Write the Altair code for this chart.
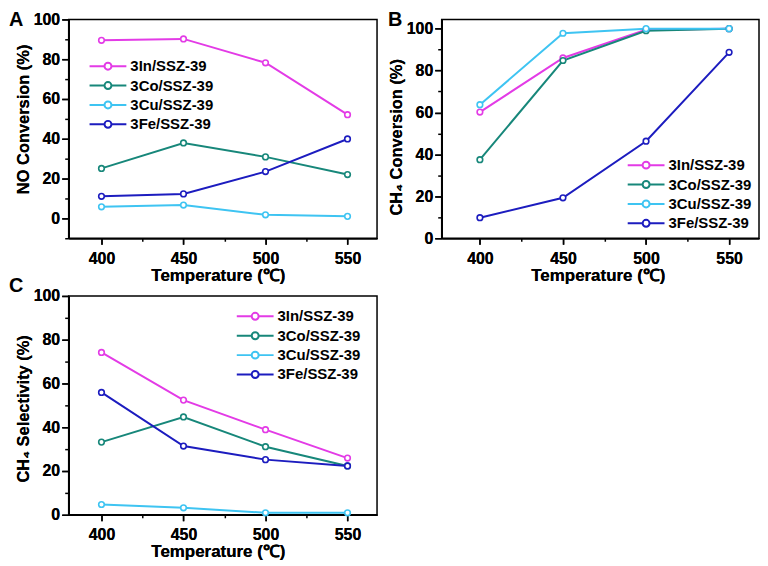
import altair as alt
import pandas as pd

temps = [400, 450, 500, 550]
series = ["3In/SSZ-39", "3Co/SSZ-39", "3Cu/SSZ-39", "3Fe/SSZ-39"]
colors = ["#e33be6", "#17877a", "#3ec4f2", "#1c1cbf"]

# Panel A: NO conversion (%)
no_in = [89.5, 90.2, 78.2, 52.1]
no_co = [25.1, 37.9, 30.9, 22.0]
no_cu = [5.8, 6.7, 1.8, 1.0]
no_fe = [11.1, 12.3, 23.5, 39.9]

# Panel B: CH4 conversion (%)
ch4c_in = [60.2, 86.0, 99.5, 100.0]
ch4c_co = [37.5, 84.8, 99.0, 100.0]
ch4c_cu = [63.7, 97.8, 100.0, 100.0]
ch4c_fe = [9.8, 19.3, 46.3, 88.7]

# Panel C: CH4 selectivity (%)
ch4s_in = [74.2, 52.4, 38.9, 25.9]
ch4s_co = [33.2, 44.7, 31.1, 22.3]
ch4s_cu = [4.7, 3.2, 0.9, 0.9]
ch4s_fe = [55.9, 31.4, 25.2, 22.3]

major_x = [400, 450, 500, 550]
minor_x = [425, 475, 525]
major_y = [0, 20, 40, 60, 80, 100]

FONT = "Liberation Sans"
XTITLE = "Temperature (\u2103)"
SYM = "M-3.7,0H-0.7M0.7,0H3.7M-0.7,0A0.7,0.7 0 1,0 0.7,0A0.7,0.7 0 1,0 -0.7,0Z"


def make_df(vals):
    rows = []
    for s, v in zip(series, vals):
        for t, y in zip(temps, v):
            rows.append({"temp": t, "val": y, "series": s})
    return pd.DataFrame(rows)


def panel(vals, ydom, ytitle, yminor, letter, ldx, ldy, legx, legy, w, xdom,
          tx, ty):
    df = make_df(vals)
    base = alt.Chart(df)
    xs = alt.Scale(domain=xdom, nice=False, zero=False)
    ys = alt.Scale(domain=ydom, nice=False, zero=False)
    xax = alt.Axis(values=major_x, title=XTITLE, format="d", tickSize=6,
                   labelPadding=6, titlePadding=1, orient="bottom", titleX=tx)
    yax = alt.Axis(values=major_y, title=ytitle, format="d", tickSize=7,
                   labelPadding=2, titlePadding=2, orient="left", titleY=ty,
                   titleFontSize=16.5)
    col = alt.Color("series:N", scale=alt.Scale(domain=series, range=colors),
                    legend=alt.Legend(orient="none", legendX=legx, legendY=legy,
                                      title=None, symbolType=SYM, symbolSize=100,
                                      symbolStrokeWidth=2, symbolFillColor="white",
                                      labelFont=FONT, labelFontSize=15,
                                      labelFontWeight="bold", labelColor="black",
                                      labelOffset=15, rowPadding=3.5, padding=0))
    line = base.mark_line(strokeWidth=2).encode(
        x=alt.X("temp:Q", scale=xs, axis=xax),
        y=alt.Y("val:Q", scale=ys, axis=yax),
        color=col,
    )
    pts = base.mark_point(shape="circle", size=32, filled=False, fill="white",
                          strokeWidth=1.6, opacity=1).encode(
        x=alt.X("temp:Q", scale=xs, axis=xax),
        y=alt.Y("val:Q", scale=ys, axis=yax),
        color=alt.Color("series:N", legend=None),
    )
    minor = base.mark_point(opacity=0).encode(
        x=alt.X("temp:Q", scale=xs,
                axis=alt.Axis(values=minor_x, labels=False, domain=False,
                              title=None, tickSize=3, orient="bottom")),
        y=alt.Y("val:Q", scale=ys,
                axis=alt.Axis(values=yminor, labels=False, domain=False,
                              title=None, tickSize=4, orient="left")),
    )
    lab = alt.Chart(pd.DataFrame({"t": [letter]})).mark_text(
        font=FONT, fontSize=20, fontWeight="bold", align="left",
        baseline="alphabetic", color="black").encode(
        text="t:N", x=alt.value(ldx), y=alt.value(ldy))
    return alt.layer(minor, line, pts, lab).resolve_axis(
        x="independent", y="independent").properties(width=w, height=220)


pA = panel([no_in, no_co, no_cu, no_fe], [-10, 100], "NO Conversion (%)",
           [-10, 10, 30, 50, 70, 90], "A", -60, 7, 32, 39.5, 310, [380, 568],
           150, 100)
pB = panel([ch4c_in, ch4c_co, ch4c_cu, ch4c_fe], [0, 104.4], "CH\u2084 Conversion (%)",
           [10, 30, 50, 70, 90], "B", -54, 7, 198, 139, 319, [377, 568],
           157, 118)
pC = panel([ch4s_in, ch4s_co, ch4s_cu, ch4s_fe], [0, 100], "CH\u2084 Selectivity (%)",
           [10, 30, 50, 70, 90], "C", -60, -4, 180, 13, 310, [380, 568],
           150, 113)

chart = alt.concat(pA, pB, pC, columns=2, spacing={"row": 58, "column": 65},
                   bounds="flush").resolve_scale(color="independent").resolve_legend(
    color="independent"
).properties(
    padding=0
).configure_view(stroke="black", strokeWidth=1.5).configure_axis(
    labelFont=FONT, labelFontSize=16, labelFontWeight="bold", labelColor="black",
    titleFont=FONT, titleFontSize=17, titleFontWeight="bold", titleColor="black",
    tickColor="black", tickWidth=1.5, domainColor="black", domainWidth=1.5,
    grid=False,
)

chart.save("out.html", embed_options={"renderer": "svg", "actions": False})
